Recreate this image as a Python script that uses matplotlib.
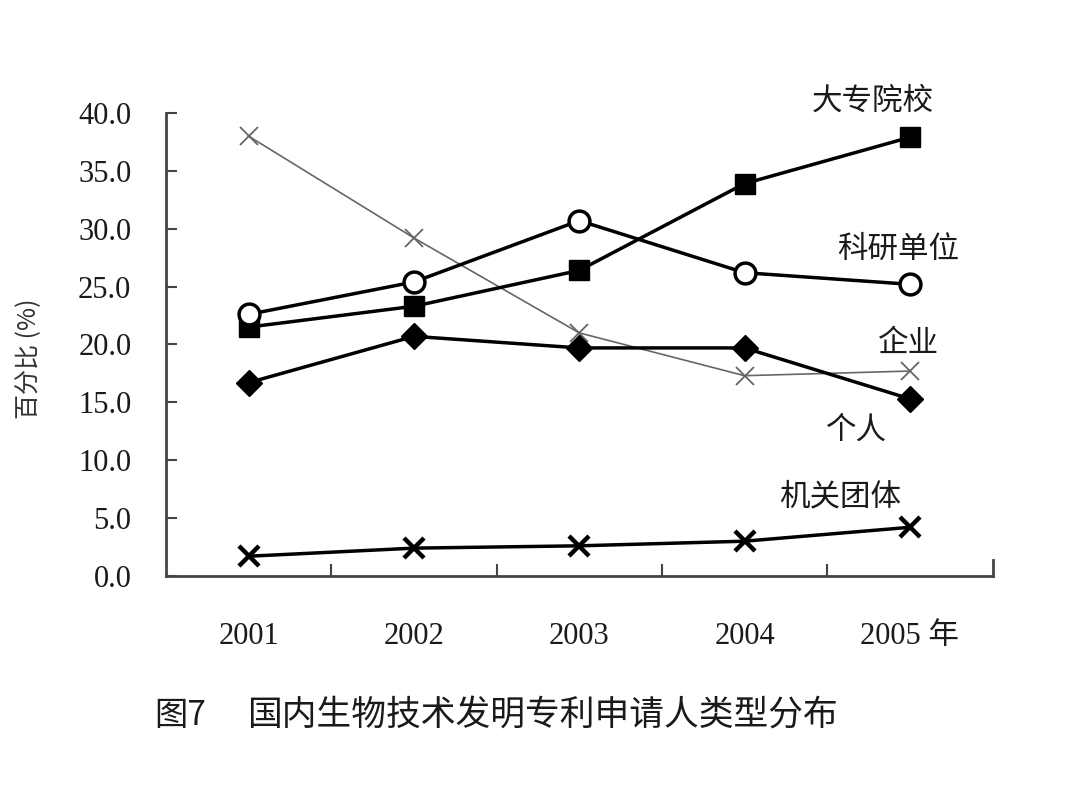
import matplotlib
matplotlib.use('Agg')
import matplotlib.pyplot as plt
import numpy as np

plt.rcParams['font.family'] = ['Liberation Serif', 'Noto Sans CJK SC', 'DejaVu Sans']
plt.rcParams['axes.unicode_minus'] = False

# data (percent)
years = ['2001', '2002', '2003', '2004', '2005 年']
universities = [21.5, 23.3, 26.4, 33.9, 37.9]   # 大专院校
institutes = [22.6, 25.4, 30.7, 26.2, 25.2]     # 科研单位
enterprises = [38.0, 29.2, 21.0, 17.3, 17.7]    # 企业
individuals = [16.7, 20.7, 19.7, 19.7, 15.3]    # 个人
agencies = [1.7, 2.4, 2.6, 3.0, 4.2]            # 机关团体
yticks = [0, 5, 10, 15, 20, 25, 30, 35, 40]

cjk = ['Noto Sans CJK SC', 'DejaVu Sans']

fig = plt.figure(figsize=(10.8, 8.1), dpi=100)
ax = fig.add_axes([0.1537, 0.289, 0.7653, 0.5715])
x = np.arange(len(years))

ax.plot(x, enterprises, color='#666666', lw=1.2, marker='x', ms=13,
        mew=1.3, zorder=2)
ax.plot(x, agencies, color='black', lw=2.5, marker='x', ms=14, mew=3.2, zorder=3)
ax.plot(x, individuals, color='black', lw=2.5, marker='D', ms=13, zorder=3)
ax.plot(x, universities, color='black', lw=2.5, marker='s', ms=14, zorder=3)
ax.plot(x, institutes, color='black', lw=2.5, marker='o', ms=15,
        mfc='white', mec='black', mew=2.5, zorder=4)

ax.set_xlim(-0.5, 4.5)
ax.set_ylim(0, 40)
ax.set_yticks(yticks)
ax.set_yticklabels([f'{v:.1f}' for v in yticks])
ax.set_xticks(x)
ax.set_xticklabels(years)
ax.set_xticks([0.5, 1.5, 2.5, 3.5], minor=True)

for s in ['top', 'right']:
    ax.spines[s].set_visible(False)
for s in ['left', 'bottom']:
    ax.spines[s].set_color('#444444')
    ax.spines[s].set_linewidth(2)

ax.tick_params(axis='y', direction='in', length=8, width=1.5, pad=25,
               labelsize=22, colors='#444444', labelcolor='#1a1a1a')
ax.tick_params(axis='x', which='major', length=0, pad=33, labelsize=22,
               labelcolor='#1a1a1a')
ax.tick_params(axis='x', which='minor', direction='in', length=9, width=1.5,
               colors='#444444')
# closing tick at the right end of the x axis
ax.plot([4.5, 4.5], [0, 1.4], color='#444444', lw=2, clip_on=False)

ax.set_ylabel('百分比 (%)', family=cjk, fontsize=18, color='#333333')
ax.yaxis.set_label_coords(-0.15, 0.47)

labels = [('大专院校', 3.775, 41.0), ('科研单位', 3.93, 28.2), ('企业', 3.99, 20.1),
          ('个人', 3.68, 12.6), ('机关团体', 3.58, 6.8)]
for txt, lx, ly in labels:
    ax.text(lx, ly, txt, family=cjk, fontsize=22, ha='center', va='center',
            color='#1a1a1a', clip_on=False)

fig.text(0.143, 0.117, '图7', family=cjk, fontsize=24, ha='left', va='center',
         color='#1a1a1a')
fig.text(0.229, 0.117, '国内生物技术发明专利申请人类型分布', family=cjk,
         fontsize=25, ha='left', va='center', color='#1a1a1a')

fig.savefig('out.png', dpi=100, facecolor='white')
